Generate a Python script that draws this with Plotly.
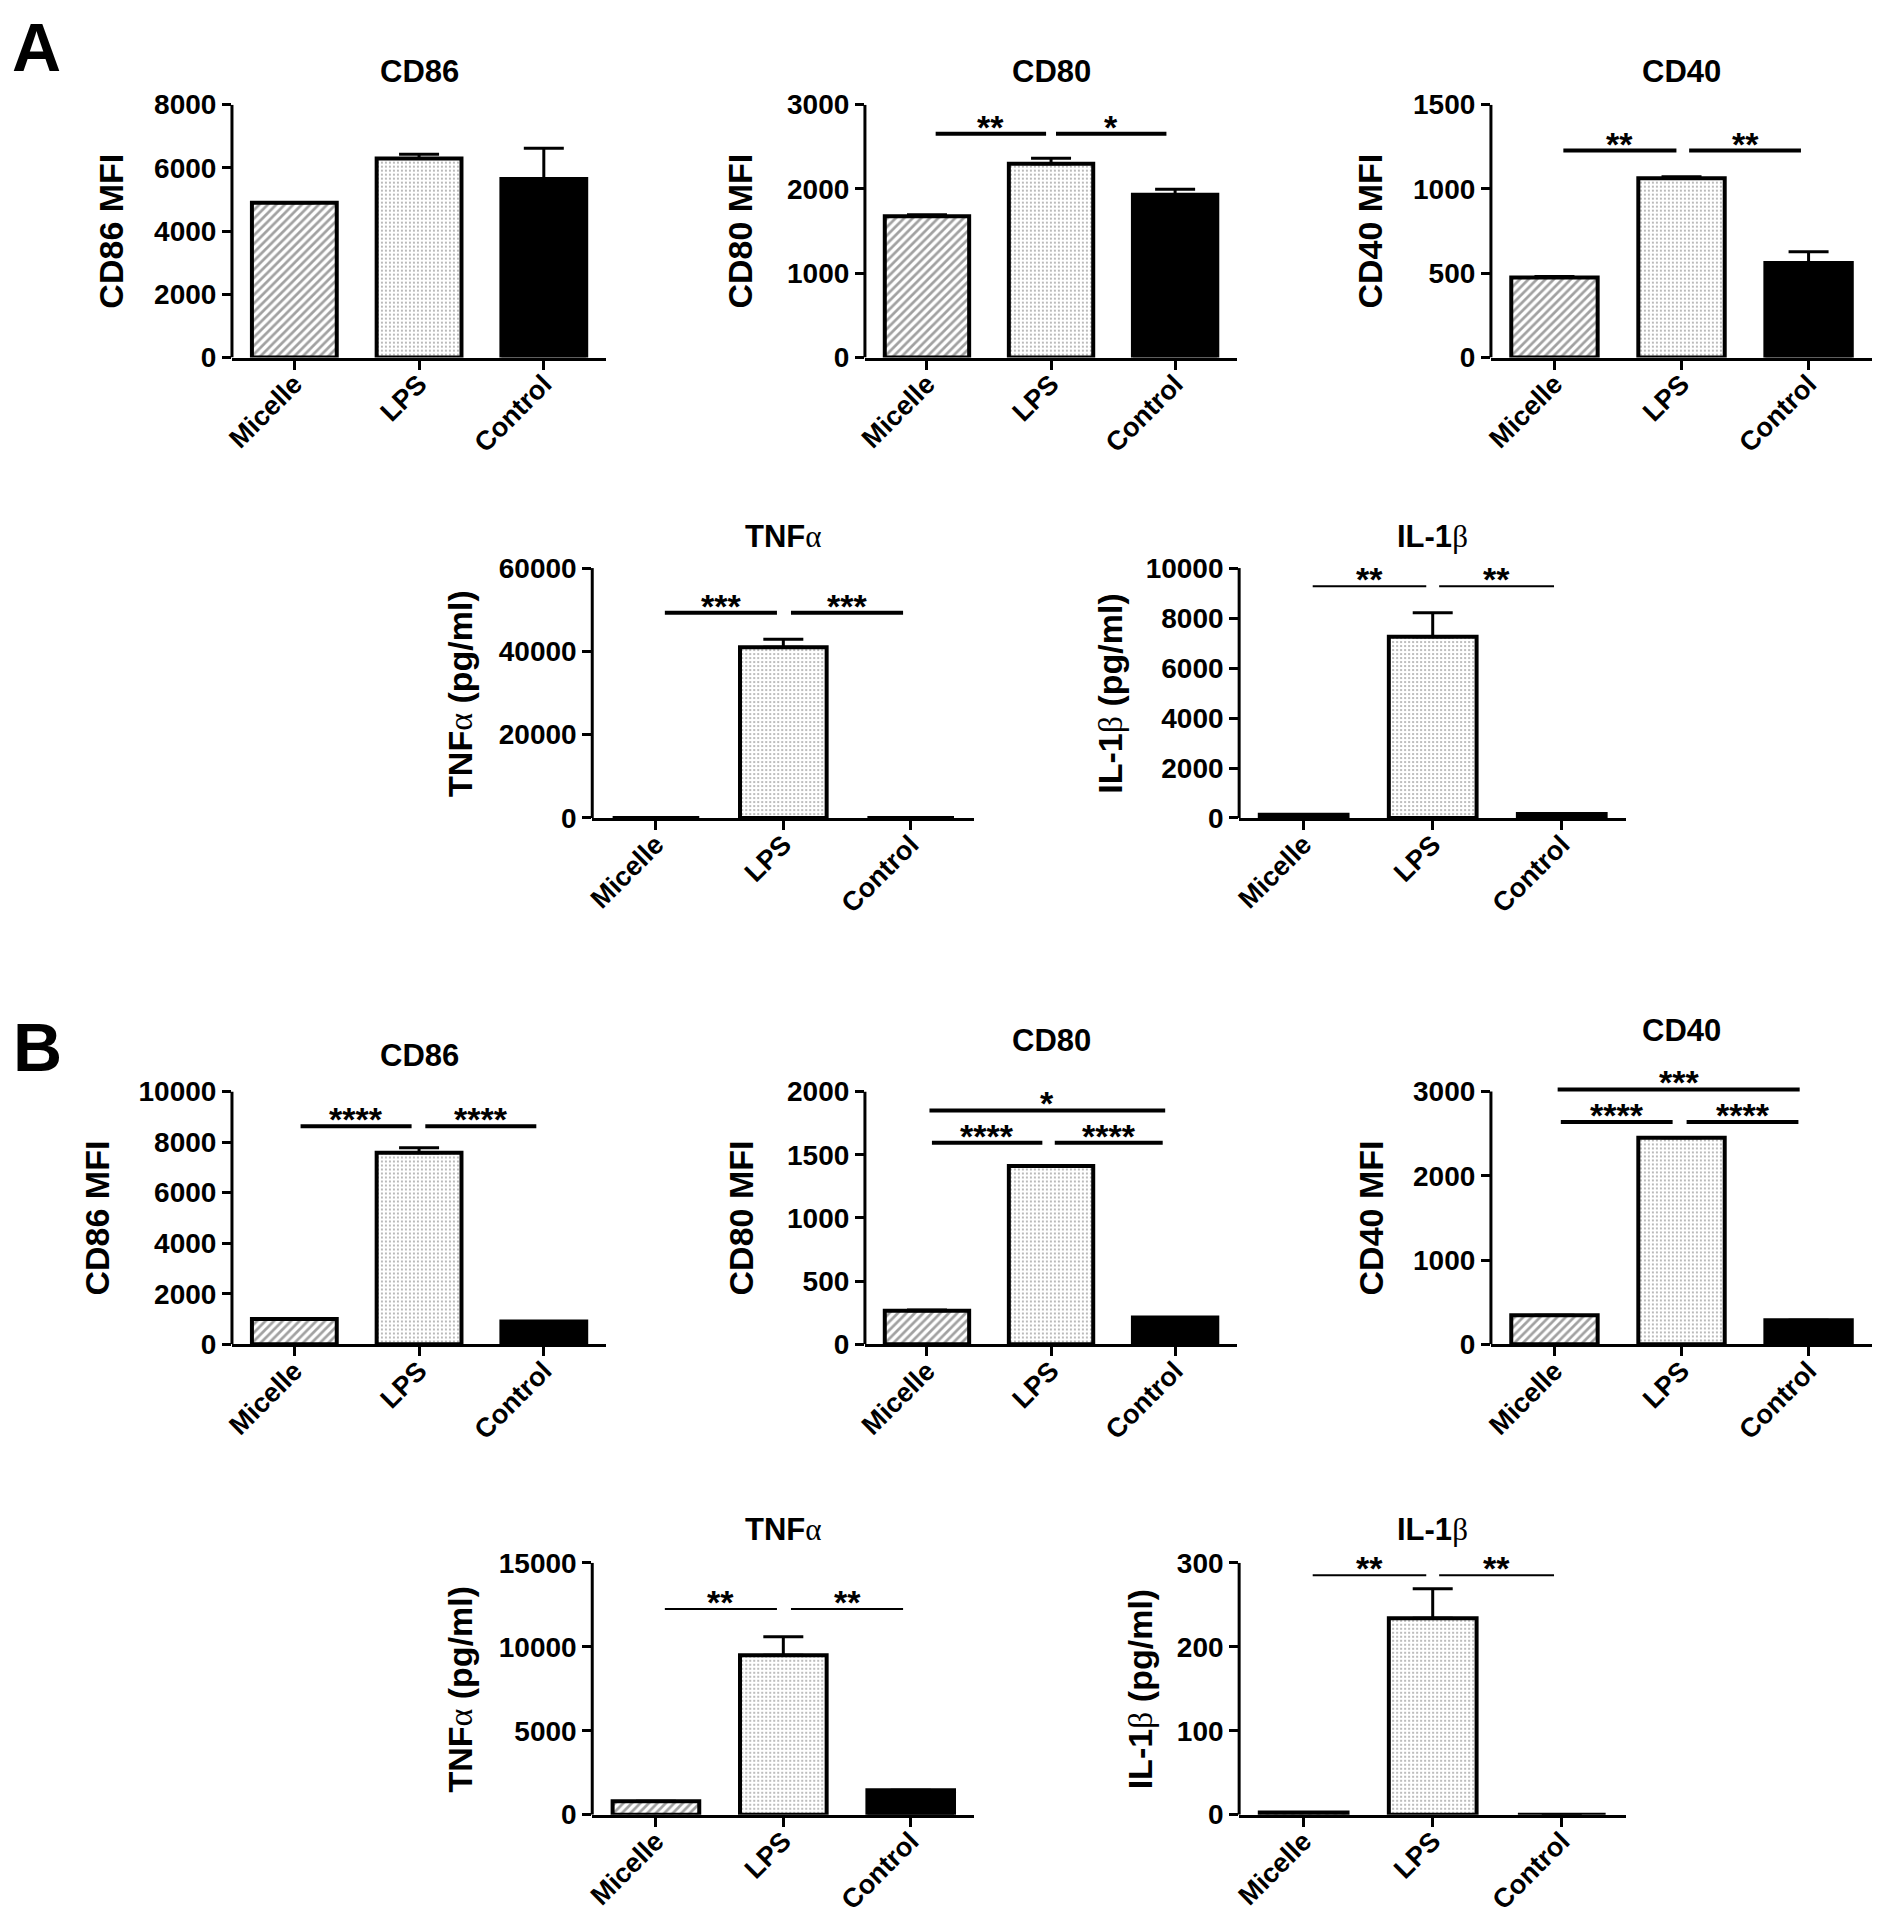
import plotly.graph_objects as go

W, H = 1886, 1924
FONT = "Liberation Sans, Arial, sans-serif"

categories = ["Micelle", "LPS", "Control"]

# ---- panel A ----
a_cd86 = [4900, 6300, 5650]
a_cd86_err = [0, 130, 970]
a_cd80 = [1675, 2300, 1930]
a_cd80_err = [20, 65, 65]
a_cd40 = [475, 1063, 560]
a_cd40_err = [5, 10, 68]
a_tnf = [0, 41000, 0]
a_tnf_err = [0, 1900, 0]
a_il1b = [130, 7250, 160]
a_il1b_err = [0, 960, 0]

# ---- panel B ----
b_cd86 = [1000, 7580, 900]
b_cd86_err = [0, 200, 0]
b_cd80 = [266, 1410, 213]
b_cd80_err = [5, 0, 0]
b_cd40 = [345, 2450, 285]
b_cd40_err = [0, 0, 0]
b_tnf = [800, 9500, 1450]
b_tnf_err = [0, 1100, 0]
b_il1b = [2.5, 234, 0]
b_il1b_err = [0, 35, 0]

# y tick values
ticks_a_cd86 = [0, 2000, 4000, 6000, 8000]
ticks_a_cd80 = [0, 1000, 2000, 3000]
ticks_a_cd40 = [0, 500, 1000, 1500]
ticks_a_tnf = [0, 20000, 40000, 60000]
ticks_a_il1b = [0, 2000, 4000, 6000, 8000, 10000]
ticks_b_cd86 = [0, 2000, 4000, 6000, 8000, 10000]
ticks_b_cd80 = [0, 500, 1000, 1500, 2000]
ticks_b_cd40 = [0, 1000, 2000, 3000]
ticks_b_tnf = [0, 5000, 10000, 15000]
ticks_b_il1b = [0, 100, 200, 300]


def greek(ch):
    return "<span style=\"font-family:'Liberation Serif';font-weight:normal\">" + ch + "</span>"


TNF = "TNF" + greek("α")
IL1B = "IL-1" + greek("β")

# significance bars: (from, to, y value, stars, line width)
sig_a_cd80 = [(0.07, 0.96, 2654, "**", 4), (1.04, 1.93, 2654, "*", 4)]
sig_a_cd40 = [(0.07, 0.96, 1228, "**", 4), (1.06, 1.94, 1228, "**", 4)]
sig_a_tnf = [(0.07, 0.95, 49300, "***", 4), (1.06, 1.94, 49300, "***", 4)]
sig_a_il1b = [(0.07, 0.95, 9270, "**", 2), (1.05, 1.94, 9270, "**", 2)]
sig_b_cd86 = [(0.05, 0.94, 8630, "****", 4), (1.05, 1.94, 8630, "****", 4)]
sig_b_cd80 = [(0.04, 0.93, 1595, "****", 4), (1.03, 1.90, 1595, "****", 4),
              (0.02, 1.92, 1850, "*", 4)]
sig_b_cd40 = [(0.05, 0.93, 2637, "****", 4), (1.04, 1.92, 2637, "****", 4),
              (0.025, 1.93, 3024, "***", 4)]
sig_b_tnf = [(0.07, 0.95, 12250, "**", 2), (1.06, 1.94, 12250, "**", 2)]
sig_b_il1b = [(0.07, 0.95, 285, "**", 2), (1.05, 1.94, 285, "**", 2)]

# layout of each small chart in pixels: x left, x right, y of zero, y of top tick
panels = [
    dict(v=a_cd86, e=a_cd86_err, t=ticks_a_cd86, title="CD86", ylab="CD86 MFI",
         box=(216, 592, 340, 83), ty=49, off=121, sig=[], top=8000),
    dict(v=a_cd80, e=a_cd80_err, t=ticks_a_cd80, title="CD80", ylab="CD80 MFI",
         box=(852, 1226, 340, 83), ty=49, off=125, sig=sig_a_cd80, top=3000),
    dict(v=a_cd40, e=a_cd40_err, t=ticks_a_cd40, title="CD40", ylab="CD40 MFI",
         box=(1481, 1864, 340, 83), ty=49, off=121, sig=sig_a_cd40, top=1500),
    dict(v=a_tnf, e=a_tnf_err, t=ticks_a_tnf, title=TNF, ylab=TNF + " (pg/ml)",
         box=(578, 962, 808, 554), ty=522, off=133, sig=sig_a_tnf, top=60000),
    dict(v=a_il1b, e=a_il1b_err, t=ticks_a_il1b, title=IL1B, ylab=IL1B + " (pg/ml)",
         box=(1228, 1617, 808, 554), ty=522, off=130, sig=sig_a_il1b, top=10000),
    dict(v=b_cd86, e=b_cd86_err, t=ticks_b_cd86, title="CD86", ylab="CD86 MFI",
         box=(216, 592, 1343, 1086), ty=1049, off=136, sig=sig_b_cd86, top=10000),
    dict(v=b_cd80, e=b_cd80_err, t=ticks_b_cd80, title="CD80", ylab="CD80 MFI",
         box=(852, 1226, 1343, 1086), ty=1034, off=125, sig=sig_b_cd80, top=2000),
    dict(v=b_cd40, e=b_cd40_err, t=ticks_b_cd40, title="CD40", ylab="CD40 MFI",
         box=(1481, 1864, 1343, 1086), ty=1024, off=121, sig=sig_b_cd40, top=3060),
    dict(v=b_tnf, e=b_tnf_err, t=ticks_b_tnf, title=TNF, ylab=TNF + " (pg/ml)",
         box=(578, 962, 1821, 1565), ty=1531, off=133, sig=sig_b_tnf, top=15000),
    dict(v=b_il1b, e=b_il1b_err, t=ticks_b_il1b, title=IL1B, ylab=IL1B + " (pg/ml)",
         box=(1228, 1617, 1821, 1565), ty=1531, off=100, sig=sig_b_il1b, top=300),
]


def px(x):
    return x / W


def py(y):
    return 1 - y / H


fig = go.Figure()
annotations = []
shapes = []
layout = {}

for i, p in enumerate(panels, start=1):
    n = "" if i == 1 else str(i)
    xa, ya = f"x{n}", f"y{n}"
    x0, x1, yb, yt = p["box"]
    maxtick = p["t"][-1]
    # top of domain so that the last tick sits on yt
    ytop = yb - (yb - yt) * p["top"] / maxtick

    fig.add_trace(go.Bar(
        x=categories, y=p["v"], xaxis=xa, yaxis=ya, width=0.68,
        marker=dict(
            color=["white", "white", "black"],
            line=dict(color="black", width=4),
            pattern=dict(shape=["/", ".", ""], fgcolor=["black", "#d6d6d6", "black"],
                         bgcolor="white", size=[6, 4, 7], solidity=[0.45, 0.18, 0.3]),
        ),
        error_y=dict(type="data", array=p["e"], arrayminus=[0, 0, 0], symmetric=False,
                     color="black", thickness=3, width=20),
        showlegend=False,
    ))

    layout[f"xaxis{n}"] = dict(
        domain=[px(x0), px(x1)], anchor=ya, range=[-0.5, 2.5],
        showline=True, linecolor="black", linewidth=3,
        ticks="outside", ticklen=9, tickwidth=3, tickcolor="black",
        tickangle=-45, ticklabelstandoff=-12, showgrid=False, zeroline=False,
        tickfont=dict(family=FONT, size=27, color="black", weight="bold"),
    )
    layout[f"yaxis{n}"] = dict(
        domain=[py(yb), py(ytop)], anchor=xa, range=[0, p["top"]],
        showline=False, ticks="outside", ticklen=9, tickwidth=3, tickcolor="black",
        tickmode="array", tickvals=p["t"], tickformat="d",
        showgrid=False, zeroline=False,
        tickfont=dict(family=FONT, size=28, color="black", weight="bold"),
    )

    # y axis line only up to the last tick
    shapes.append(dict(type="line", xref=f"{xa} domain", x0=0, x1=0, yref=ya,
                       y0=0, y1=maxtick, line=dict(color="black", width=3)))

    for (s0, s1, sy, stars, lw) in p["sig"]:
        shapes.append(dict(type="line", xref=xa, yref=ya, x0=s0, x1=s1, y0=sy, y1=sy,
                           line=dict(color="black", width=lw)))
        annotations.append(dict(xref=xa, yref=ya, x=(s0 + s1) / 2, y=sy, text=f"<b>{stars}</b>",
                                showarrow=False, yanchor="bottom", yshift=-14,
                                font=dict(family=FONT, size=34, color="black")))

    annotations.append(dict(xref="paper", yref="paper", x=px((x0 + x1) / 2), y=py(p["ty"]),
                            text=f"<b>{p['title']}</b>", showarrow=False,
                            xanchor="center", yanchor="middle",
                            font=dict(family=FONT, size=31, color="black")))
    annotations.append(dict(xref="paper", yref="paper", x=px(x0 - p["off"]),
                            y=py((yb + yt) / 2), text=f"<b>{p['ylab']}</b>",
                            textangle=-90, showarrow=False,
                            xanchor="center", yanchor="middle",
                            font=dict(family=FONT, size=34, color="black")))

# panel letters
for letter, (lx, ly) in {"A": (20, 24), "B": (21, 1041)}.items():
    annotations.append(dict(xref="paper", yref="paper", x=px(lx), y=py(ly), text=f"<b>{letter}</b>",
                            showarrow=False, xanchor="center", yanchor="middle",
                            font=dict(family=FONT, size=68, color="black")))

fig.update_layout(
    width=W, height=H,
    margin=dict(l=0, r=0, t=0, b=0),
    paper_bgcolor="white", plot_bgcolor="white",
    annotations=annotations, shapes=shapes,
    **layout,
)

fig.write_html("out.html")
